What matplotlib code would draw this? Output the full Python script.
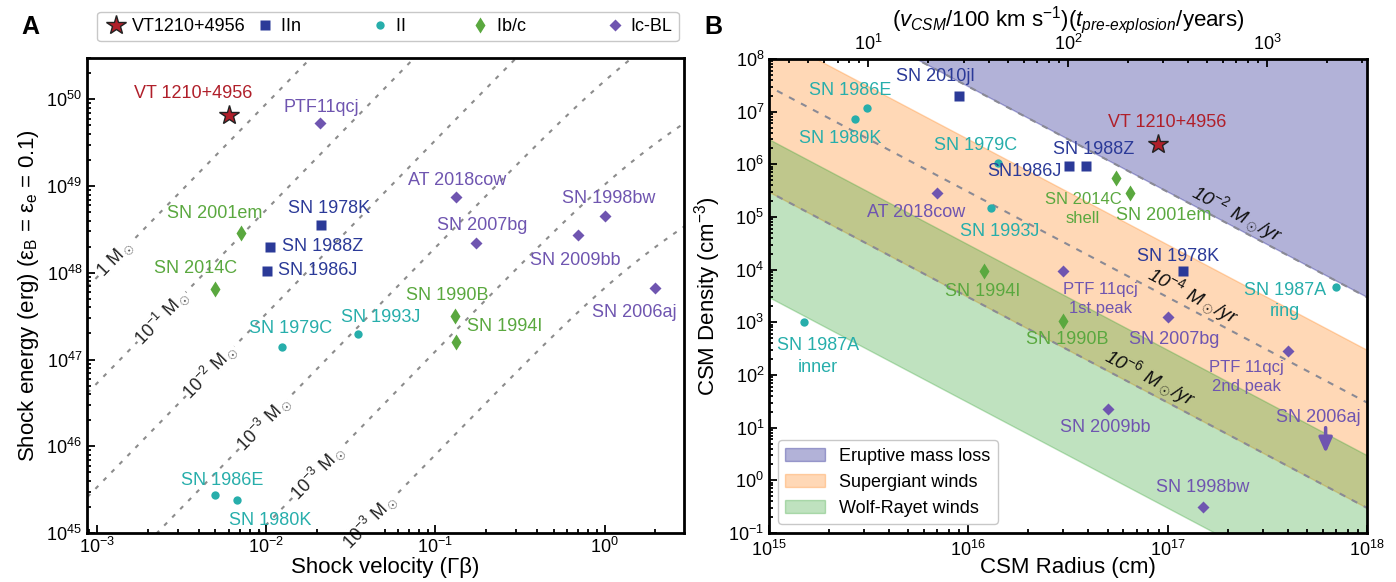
import numpy as np
import matplotlib
matplotlib.use("Agg")
import matplotlib.pyplot as plt
from matplotlib.lines import Line2D
from matplotlib.ticker import NullFormatter

plt.rcParams['font.family'] = ['Liberation Sans', 'DejaVu Sans']
plt.rcParams['mathtext.fontset'] = 'custom'
plt.rcParams['mathtext.rm'] = 'Liberation Sans'
plt.rcParams['mathtext.it'] = 'Liberation Sans:italic'
plt.rcParams['mathtext.bf'] = 'Liberation Sans:bold'

# ---------------- panel A: shock energy vs shock velocity ----------------
a_names = ['VT 1210+4956', 'PTF11qcj', 'SN 2001em', 'SN 2014C', 'SN 1978K',
           'SN 1988Z', 'SN 1986J', 'AT 2018cow', 'SN 2007bg', 'SN 1998bw',
           'SN 2009bb', 'SN 2006aj', 'SN 1990B', 'SN 1994I', 'SN 1993J',
           'SN 1979C', 'SN 1986E', 'SN 1980K']
a_types = ['VT', 'IcBL', 'Ibc', 'Ibc', 'IIn', 'IIn', 'IIn', 'IcBL', 'IcBL', 'IcBL',
           'IcBL', 'IcBL', 'Ibc', 'Ibc', 'II', 'II', 'II', 'II']
a_gb = [0.0060, 0.0207, 0.0071, 0.0050, 0.021, 0.0105, 0.0101, 0.132, 0.173, 1.0,
        0.70, 2.0, 0.130, 0.133, 0.035, 0.0124, 0.0050, 0.0067]
a_energy = [6.6e49, 5.3e49, 2.86e48, 6.5e47, 3.6e48, 2.0e48, 1.05e48, 7.4e48, 2.2e48, 4.5e48,
            2.7e48, 6.6e47, 3.2e47, 1.6e47, 1.95e47, 1.4e47, 2.74e45, 2.4e45]
a_offsets = [(-36, 22), (2, 16), (-26, 20), (-20, 21), (8, 16), (53, 0), (51, 0),
             (1, 17), (6, 18), (4, 18), (-3, -25), (-21, -24), (-7, 20), (48, 15),
             (22, 17), (8, 18), (7, 15), (33, -20)]

# constant ejecta-mass guide lines (solar masses) and their labels
line_mass = [1.0, 6e-2, 3.8e-3, 2.2e-4, 1.4e-5, 9e-7]
line_text = ['1 M$_\\odot$', '10$^{-1}$ M$_\\odot$', '10$^{-2}$ M$_\\odot$',
             '10$^{-3}$ M$_\\odot$', '10$^{-3}$ M$_\\odot$', '10$^{-3}$ M$_\\odot$']
line_label_gb = [1.28e-3, 2.4e-3, 4.65e-3, 9.6e-3, 0.020, 0.041]

# ---------------- panel B: CSM density vs radius ----------------
b_names = ['VT 1210+4956', 'SN 2010jl', 'SN 1986E', 'SN 1980K', 'SN 1979C', 'SN 1988Z',
           'SN1986J', 'AT 2018cow', 'SN 1993J', 'SN 2014C\nshell', 'SN 2001em',
           'SN 1978K', 'SN 1994I', 'PTF 11qcj\n1st peak', 'SN 1987A\nring', 'SN 1990B',
           'SN 2007bg', 'PTF 11qcj\n2nd peak', 'SN 2009bb', 'SN 1998bw', 'SN 1987A\ninner']
b_types = ['VT', 'IIn', 'II', 'II', 'II', 'IIn', 'IIn', 'IcBL', 'II', 'Ibc', 'Ibc',
           'IIn', 'Ibc', 'IcBL', 'II', 'Ibc', 'IcBL', 'IcBL', 'IcBL', 'IcBL', 'II']
b_radius = [8.9e16, 9.0e15, 3.1e15, 2.7e15, 1.41e16, 3.9e16, 3.2e16, 7.0e15, 1.3e16,
            5.5e16, 6.5e16, 1.19e17, 1.2e16, 3.0e16, 7.0e17, 3.0e16, 1.0e17, 4.0e17,
            5.0e16, 1.5e17, 1.5e15]
b_density = [2.4e6, 2.0e7, 1.18e7, 7.2e6, 1.06e6, 9.3e5, 9.3e5, 2.85e5, 1.49e5,
             5.5e5, 2.85e5, 9.4e3, 9.4e3, 9.4e3, 4.7e3, 1.06e3, 1.26e3, 285,
             22.6, 0.31, 1.0e3]
b_offsets = [(10, 22), (-24, 19), (-17, 17), (-15, -19), (-23, 18), (8, 16), (-45, -6),
             (-21, -19), (9, -24), (-33, -31), (33, -22), (-5, 15), (-1, -20),
             (37, -28), (-51, -14), (4, -18), (7, -22), (-41, -26), (-2, -18),
             (0, 20), (14, -34)]
b_small = ['SN 2014C\nshell', 'PTF 11qcj\n1st peak', 'PTF 11qcj\n2nd peak']

# SN 2006aj upper limit
ul_name = 'SN 2006aj'
ul_radius = 6.2e17
ul_density = 10.0
ul_tip = 3.3

# wind mass-loss bands (Msun/yr) for v_wind = 100 km/s
band_names = ['Eruptive mass loss', 'Supergiant winds', 'Wolf-Rayet winds']
band_mdot = [(1e-2, 1e4), (1e-6, 1e-3), (1e-8, 1e-5)]
band_colors = ['navy', 'C1', 'C2']
guide_mdot = [1e-2, 1e-4, 1e-6]
guide_text = ['10$^{-2}$ M$_\\odot$/yr', '10$^{-4}$ M$_\\odot$/yr', '10$^{-6}$ M$_\\odot$/yr']
guide_label_r = [2.23e17, 1.34e17, 8.2e16]

COL = {'VT': '#b01f2a', 'IIn': '#2b3a98', 'II': '#27aeab', 'Ibc': '#5aa83f', 'IcBL': '#6f55b0'}
STY = {
    'VT': dict(marker='*', ms=15, mfc=COL['VT'], mec='#222222', mew=1.0),
    'IIn': dict(marker='s', ms=6.5, mfc=COL['IIn'], mec='none'),
    'II': dict(marker='o', ms=6, mfc=COL['II'], mec='none'),
    'Ibc': dict(marker='d', ms=8, mfc=COL['Ibc'], mec='none'),
    'IcBL': dict(marker='D', ms=6.5, mfc=COL['IcBL'], mec='none'),
}

MSUN_C2 = 1.989e33 * (2.998e10) ** 2
MSUN_YR = 1.989e33 / 3.156e7
V_WIND = 1e7
M_P = 1.6726e-24
R_TOP = 1e7 * 3.156e7  # 100 km/s * 1 yr in cm


def e_of_gb(m, gb):
    return m * MSUN_C2 * (np.sqrt(1 + gb ** 2) - 1)


def n_of_r(mdot, r):
    return mdot * MSUN_YR / (4 * np.pi * r ** 2 * V_WIND * M_P)


def local_angle(ax, f, x):
    p = ax.transData.transform([(x, f(x)), (x * 1.05, f(x * 1.05))])
    d = p[1] - p[0]
    return np.degrees(np.arctan2(d[1], d[0]))


W, H = 1396, 582
fig = plt.figure(figsize=(W / 100, H / 100), dpi=100)
axA = fig.add_axes([87 / W, 1 - 533 / H, (684 - 87) / W, (533 - 58) / H])
axB = fig.add_axes([769 / W, 1 - 533 / H, (1367 - 769) / W, (533 - 59) / H])

for ax in (axA, axB):
    ax.set_xscale('log')
    ax.set_yscale('log')
    for s in ax.spines.values():
        s.set_linewidth(2)
    ax.tick_params(which='both', direction='in', labelsize=13, width=1.3)
    ax.tick_params(which='major', length=6)
    ax.tick_params(which='minor', length=3)
axA.tick_params(axis='x', pad=3)
axB.tick_params(axis='x', pad=5)

# ---- A ----
axA.set_xlim(8.7e-4, 2.95)
axA.set_ylim(1e45, 3e50)
gb_grid = np.logspace(-3.2, 0.6, 400)
for m, txt, gx in zip(line_mass, line_text, line_label_gb):
    axA.plot(gb_grid, e_of_gb(m, gb_grid), color='#8c8c8c', lw=1.5, ls=(0, (2, 3.5)), zorder=1)
    ang = local_angle(axA, lambda g: e_of_gb(m, g), gx)
    axA.text(gx, e_of_gb(m, gx), txt, rotation=ang, rotation_mode='anchor',
             ha='center', va='center', fontsize=13, color='#222222', zorder=2,
             bbox=dict(fc='white', ec='none', pad=0.3))

for n, t, x, y, off in zip(a_names, a_types, a_gb, a_energy, a_offsets):
    axA.plot(x, y, ls='none', zorder=4, **STY[t])
    axA.annotate(n, (x, y), xytext=off, textcoords='offset pixels', ha='center',
                 va='center', fontsize=13, color=COL[t], zorder=5)

axA.set_xlabel('Shock velocity (\u0393\u03b2)', fontsize=16, labelpad=0)
axA.set_ylabel('Shock energy (erg) (\u03b5$_\\mathrm{B}$ = \u03b5$_\\mathrm{e}$ = 0.1)',
               fontsize=16, labelpad=4)

handles = [Line2D([], [], ls='none', **STY[k]) for k in ['VT', 'IIn', 'II', 'Ibc', 'IcBL']]
labels = ['VT1210+4956', 'IIn' + ' ' * 12, 'II' + ' ' * 11, 'Ib/c' + ' ' * 14, 'Ic-BL']
fig.legend(handles, labels, ncol=5, loc='center', bbox_to_anchor=(388 / W, 1 - 26.5 / H),
           fontsize=13, handletextpad=0.2, columnspacing=0.35, borderpad=0.35,
           handlelength=1.4, edgecolor='#c8c8c8', framealpha=1)

# ---- B ----
axB.set_xlim(1e15, 1e18)
axB.set_ylim(1e-1, 1e8)
r_grid = np.logspace(14.8, 18.2, 200)
for name, (lo, hi), c in zip(band_names, band_mdot, band_colors):
    axB.fill_between(r_grid, n_of_r(lo, r_grid), n_of_r(hi, r_grid), color=c,
                     alpha=0.3, label=name, zorder=0)
for md, txt, rx in zip(guide_mdot, guide_text, guide_label_r):
    axB.plot(r_grid, n_of_r(md, r_grid), color='#8a8a95', lw=1.5, ls=(0, (3, 3.5)), zorder=1)
    ang = local_angle(axB, lambda r: n_of_r(md, r), rx)
    axB.annotate(txt, (rx, n_of_r(md, rx)), xytext=(0, 15), textcoords='offset pixels',
                 rotation=ang, ha='center', va='center', fontsize=14, style='italic',
                 color='#111111', zorder=2)

for n, t, x, y, off in zip(b_names, b_types, b_radius, b_density, b_offsets):
    axB.plot(x, y, ls='none', zorder=4, **STY[t])
    axB.annotate(n, (x, y), xytext=off, textcoords='offset pixels', ha='center',
                 va='center', fontsize=12 if n in b_small else 13, color=COL[t],
                 linespacing=1.35, zorder=5)

axB.annotate('', xy=(ul_radius, ul_tip), xytext=(ul_radius, ul_density),
             arrowprops=dict(arrowstyle='-|>,head_length=0.45,head_width=0.2',
                             color=COL['IcBL'], lw=2.5, mutation_scale=20,
                             shrinkA=0, shrinkB=0), zorder=4)
axB.annotate(ul_name, (ul_radius, ul_density), xytext=(-7, 10), textcoords='offset pixels',
             ha='center', va='center', fontsize=13, color=COL['IcBL'])

axB.set_xlabel('CSM Radius (cm)', fontsize=16, labelpad=-2)
axB.set_ylabel('CSM Density (cm$^{-3}$)', fontsize=16, labelpad=4)
axB.set_yticks([10.0 ** k for k in range(-1, 9)])
axB.legend(loc='lower left', fontsize=13, borderpad=0.4, handlelength=2.2,
           edgecolor='#c8c8c8', framealpha=1, bbox_to_anchor=(0.0, 0.0))

top = axB.secondary_xaxis('top', functions=(lambda r: r / R_TOP, lambda t: t * R_TOP))
top.set_xticks([10, 100, 1000])
top.xaxis.set_minor_formatter(NullFormatter())
top.tick_params(which='both', direction='in', labelsize=13, width=1.3)
top.tick_params(which='major', length=6)
top.tick_params(which='minor', length=3)
top.set_xlabel('($v_{CSM}$/100 km s$^{-1}$)($t_{pre\\text{-}explosion}$/years)', fontsize=16,
               labelpad=6)

fig.text(30 / W, 1 - 27 / H, 'A', fontsize=18, fontweight='bold', ha='center', va='center')
fig.text(713 / W, 1 - 27 / H, 'B', fontsize=18, fontweight='bold', ha='center', va='center')

fig.savefig('out.png', dpi=100)
